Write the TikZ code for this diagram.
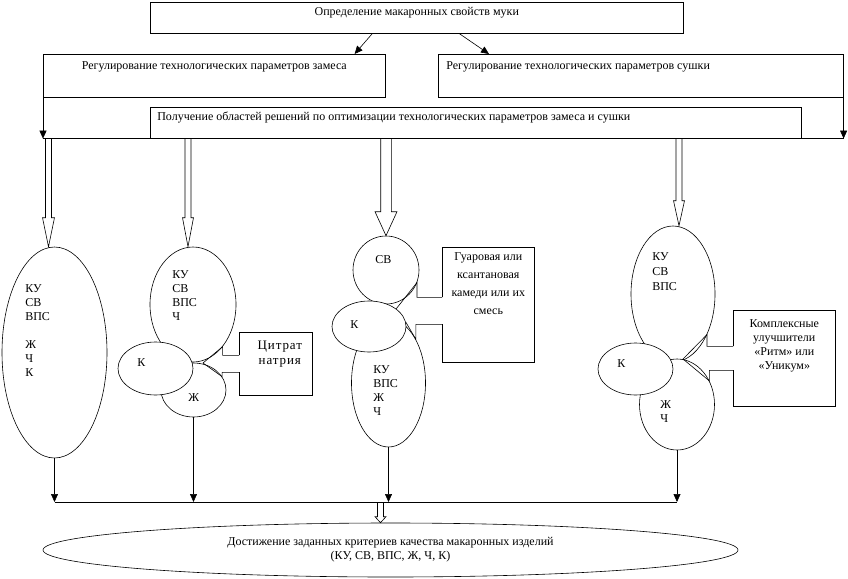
\documentclass[tikz,border=0pt]{standalone}
\usepackage{fontspec}
\setmainfont{Liberation Serif}
\usetikzlibrary{shapes.geometric,positioning,arrows.meta}
\tikzset{box/.style={rectangle,inner sep=0,anchor=north west},
  oval/.style={ellipse,draw,fill=white,inner sep=0},
  txt/.style={inner sep=0,font=\fontsize{12}{14}\selectfont},
  arr/.style={-{Triangle[length=8pt,width=7pt]}}}
% hollow arrow: start, tip, shaft half width, head half width, head length
\newcommand{\harrow}[5]{\draw ([xshift=-#3]#1)--([xshift=-#3,yshift=#5]#2)--([xshift=-#4,yshift=#5]#2)--(#2)
  --([xshift=#4,yshift=#5]#2)--([xshift=#3,yshift=#5]#2)--([xshift=#3]#1);}
% callout frame open on the left between two heights
\newcommand{\callbox}[3]{\draw ([yshift=#2]#1.west)--(#1.north west)--(#1.north east)--(#1.south east)--(#1.south west)--([yshift=#3]#1.west);}
\begin{document}
\begin{tikzpicture}[x=1pt,y=-1pt,line width=0.6pt]
\useasboundingbox (0,0) rectangle (848,578);
\node[box,draw,minimum width=533,minimum height=31] (opr) at (150,2) {};
\node[box,draw,minimum width=342,minimum height=43] (zam) at (43,54) {};
\node[box,draw,minimum width=405,minimum height=43] (sush) at (438,54) {};
\node[box,draw,minimum width=651,minimum height=31] (mid) at (150,107) {};
\node[txt,below=5pt of opr.north] {Определение макаронных свойств муки};
\node[txt,below=7pt of zam.north] {Регулирование технологических параметров замеса};
\node[txt,below right=7pt and 8pt of sush.north west] {Регулирование технологических параметров сушки};
\node[txt,below right=5pt and 7pt of mid.north west] {Получение областей решений по оптимизации технологических параметров замеса и сушки};
\draw[arr] ([xshift=-44.5]opr.south)--([xshift=-31]zam.north east);
\draw[arr] ([xshift=42.5]opr.south)--([xshift=51]sush.north west);
\draw[arr] (zam.south west)--(zam.south west |- mid.south);
\draw[arr] (sush.south east)--(sush.south east |- mid.south);
\draw (zam.south west |- mid.south)--(sush.south east |- mid.south);
% ovals
\node[oval,minimum width=105,minimum height=211] (el1) at (54.5,352.5) {};
\node[oval,minimum width=86,minimum height=115] (up2) at (193,304.5) {};
\node[oval,minimum width=65,minimum height=54] (zh2) at (193.5,390) {};
\node[oval,minimum width=75,minimum height=53] (k2) at (155.5,368.5) {};
\node[oval,minimum width=66,minimum height=68] (sv3) at (386,270) {};
\node[oval,minimum width=74,minimum height=128] (low3) at (388.5,383) {};
\node[oval,minimum width=74,minimum height=51] (k3) at (369,326.5) {};
\node[oval,minimum width=84,minimum height=136] (up4) at (673,294) {};
\node[oval,minimum width=75,minimum height=91] (low4) at (677,404.5) {};
\node[oval,minimum width=75,minimum height=52] (k4) at (635.5,369) {};
\node[txt,anchor=north west,align=left] (el1t) at (25,284) {КУ\\СВ\\ВПС\\[14pt]Ж\\Ч\\К};
\node[txt,anchor=north west,align=left] (up2t) at (172,270) {КУ\\СВ\\ВПС\\Ч};
\node[txt,anchor=north west] (k2t) at (137,358) {К};
\node[txt,anchor=north west] (zh2t) at (188,393) {Ж};
\node[txt,anchor=north west] (sv3t) at (375,255) {СВ};
\node[txt,anchor=north west] (k3t) at (350,320) {К};
\node[txt,anchor=north west,align=left] (low3t) at (373,365) {КУ\\ВПС\\Ж\\Ч};
\node[txt,anchor=north west,align=left,font=\fontsize{12}{15}\selectfont] (up4t) at (652,252) {КУ\\СВ\\ВПС};
\node[txt,anchor=north west] (k4t) at (617,359) {К};
\node[txt,anchor=north west,align=left] (low4t) at (660,400) {Ж\\Ч};
% hollow arrows from the bar
\foreach \e/\dx/\sw/\hw/\hl in {el1/-6/3/6/29,up2/-5/3/5.5/29,sv3/0/5.3/11/24,up4/6/3/5.5/25}{
  \coordinate (t\e) at ([xshift=\dx]\e.north); \coordinate (s\e) at (t\e |- mid.south);
  \harrow{s\e}{t\e}{\sw}{\hw}{\hl}}
% callouts
\node[box,minimum width=73,minimum height=63] (cit) at (239,332) {};
\callbox{cit}{8.5}{-8.5}
\coordinate (p2) at (203,363);
\draw ([yshift=8.5]cit.west) -| (up2.-55)--(p2)--(zh2.25) |- ([yshift=-8.5]cit.west);
\node[txt,align=center,font=\fontsize{13}{15}\selectfont\addfontfeature{LetterSpace=7},below=9pt of cit.north,xshift=4pt] {Цитрат\\натрия};
\node[box,minimum width=92,minimum height=115] (gum) at (442,247) {};
\callbox{gum}{7.5}{-19.5}
\draw ([yshift=7.5]gum.west) -| (sv3.-22)--(k3.33);
\draw ([yshift=-19.5]gum.west) -| (low3.58)--(k3.7);
\node[txt,align=center,font=\fontsize{12}{18}\selectfont,below=5pt of gum.north] {Гуаровая или\\ксантановая\\камеди или их\\смесь};
\node[box,minimum width=102,minimum height=96] (cmp) at (733,310) {};
\callbox{cmp}{12}{-12}
\coordinate (p4) at (683,359);
\draw ([yshift=12]cmp.west) -| (up4.-50)--(p4)--(low4.36) |- ([yshift=-12]cmp.west);
\node[txt,align=center,below=9pt of cmp.north] {Комплексные\\улучшители\\«Ритм» или\\«Уникум»};
% to the result
\coordinate (bar) at (0,502);
\foreach \e in {el1,zh2,low3,low4} \draw[arr] (\e.south)--(\e.south |- bar);
\draw (el1.south |- bar)--(low4.south |- bar);
\node[oval,minimum width=695,minimum height=54,align=center,font=\fontsize{12}{14}\selectfont] (goal) at (390.5,550) {Достижение заданных критериев качества макаронных изделий\\(КУ, СВ, ВПС, Ж, Ч, К)};
\coordinate (tg) at ([xshift=-10]goal.north); \coordinate (sg) at (tg |- bar);
\harrow{sg}{tg}{3}{5.5}{6}
\end{tikzpicture}
\end{document}
